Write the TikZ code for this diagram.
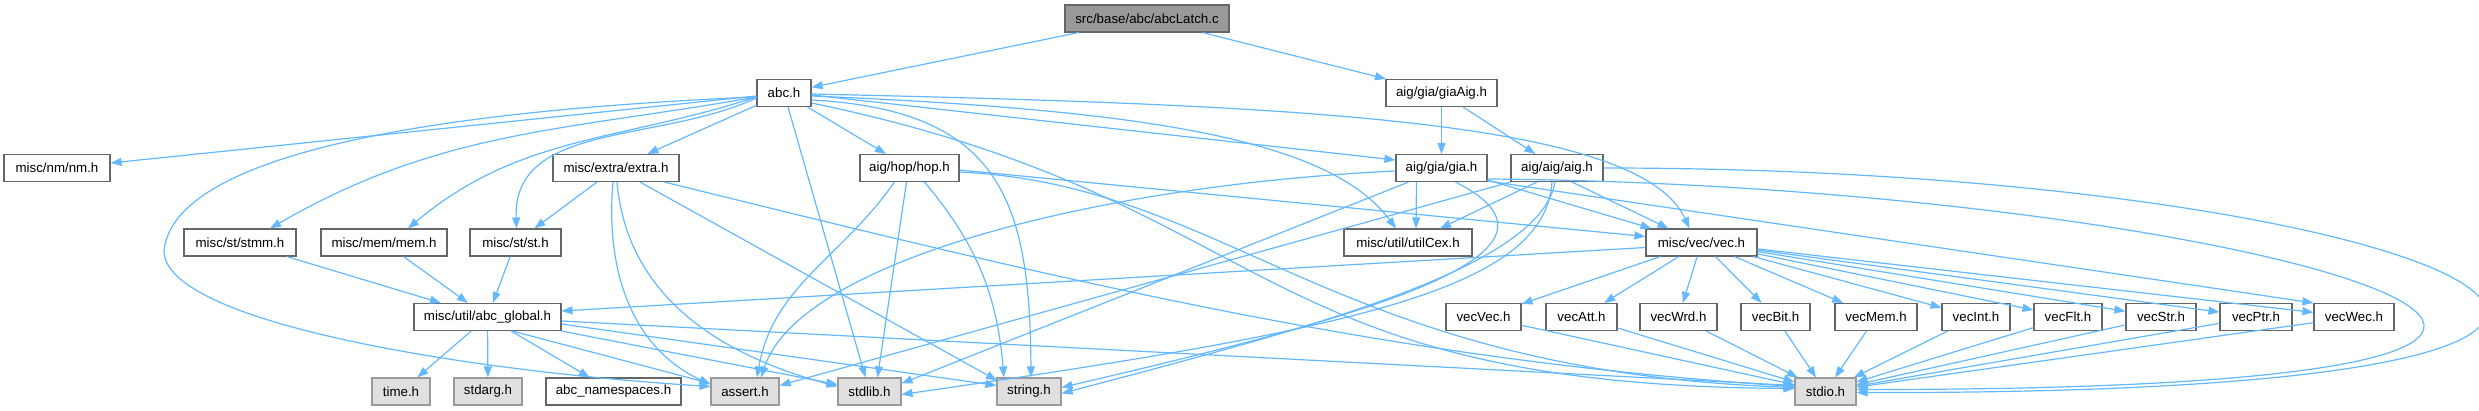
\documentclass[tikz,border=0pt]{standalone}
\usepackage{fontspec}
\setmainfont{Liberation Sans}
\usetikzlibrary{arrows.meta}
\definecolor{edgeblue}{HTML}{63B8FF}
\definecolor{boxgray}{HTML}{666666}
\definecolor{sysdraw}{HTML}{999999}
\definecolor{sysfill}{HTML}{E0E0E0}
\definecolor{mainfill}{HTML}{999999}
\tikzset{
  box/.style={draw=boxgray, line width=1.1pt, fill=white, minimum height=27pt, inner sep=0pt,
    font=\fontsize{13.3pt}{15pt}\selectfont, anchor=center},
  sys/.style={box, fill=sysfill, draw=sysdraw},
  mainbox/.style={box, fill=mainfill},
  e/.style={draw=edgeblue, line width=1.2pt, -{Triangle[length=11pt,width=8pt]}},
}
\begin{document}
\begin{tikzpicture}[x=1pt,y=1pt]
\useasboundingbox (0,0) rectangle (2479,-411);
% row 0
\node[mainbox, minimum width=164pt] (L) at (1147,-18.5) {src/base/abc/abcLatch.c};
% row 1
\node[box, minimum width=54pt] (abc) at (784,-93) {abc.h};
\node[box, minimum width=111pt] (giaAig) at (1441.5,-93) {aig/gia/giaAig.h};
% row 2
\node[box, minimum width=106pt] (nm) at (57,-168) {misc/nm/nm.h};
\node[box, minimum width=126pt] (extra) at (616,-168) {misc/extra/extra.h};
\node[box, minimum width=99pt] (hop) at (909.5,-168) {aig/hop/hop.h};
\node[box, minimum width=91pt] (gia) at (1441.5,-168) {aig/gia/gia.h};
\node[box, minimum width=92pt] (aig) at (1557,-168) {aig/aig/aig.h};
% row 3
\node[box, minimum width=112pt] (stmm) at (240,-242.5) {misc/st/stmm.h};
\node[box, minimum width=126pt] (mem) at (384,-242.5) {misc/mem/mem.h};
\node[box, minimum width=91pt] (st) at (515.5,-242.5) {misc/st/st.h};
\node[box, minimum width=128pt] (utilCex) at (1408,-242.5) {misc/util/utilCex.h};
\node[box, minimum width=111pt] (vec) at (1701.5,-242.5) {misc/vec/vec.h};
% row 4
\node[box, minimum width=147pt] (abcg) at (487.5,-317) {misc/util/abc\_global.h};
\node[box, minimum width=75pt] (vecVec) at (1483.5,-317) {vecVec.h};
\node[box, minimum width=71pt] (vecAtt) at (1581.5,-317) {vecAtt.h};
\node[box, minimum width=77pt] (vecWrd) at (1678.5,-317) {vecWrd.h};
\node[box, minimum width=69pt] (vecBit) at (1775.5,-317) {vecBit.h};
\node[box, minimum width=82pt] (vecMem) at (1876,-317) {vecMem.h};
\node[box, minimum width=68pt] (vecInt) at (1976,-317) {vecInt.h};
\node[box, minimum width=68pt] (vecFlt) at (2068,-317) {vecFlt.h};
\node[box, minimum width=70pt] (vecStr) at (2161,-317) {vecStr.h};
\node[box, minimum width=72pt] (vecPtr) at (2256,-317) {vecPtr.h};
\node[box, minimum width=80pt] (vecWec) at (2354,-317) {vecWec.h};
% row 5
\node[sys, minimum width=58pt] (time) at (401,-391.5) {time.h};
\node[sys, minimum width=68pt] (stdarg) at (488,-391.5) {stdarg.h};
\node[box, minimum width=135pt] (abcns) at (613.5,-391.5) {abc\_namespaces.h};
\node[sys, minimum width=68pt] (assert) at (745,-391.5) {assert.h};
\node[sys, minimum width=63pt] (stdlib) at (869.5,-391.5) {stdlib.h};
\node[sys, minimum width=64pt] (string) at (1029,-391.5) {string.h};
\node[sys, minimum width=61pt] (stdio) at (1825.5,-391.5) {stdio.h};

% edges from abcLatch.c
\draw[e] (L) -- (abc);
\draw[e] (L) -- (giaAig);
% edges from abc.h
\draw[e] ([yshift=-3pt]abc.west) -- ([yshift=5pt]nm.east);
\draw[e] ([yshift=-4pt]abc.west) to[out=190,in=30] ([xshift=30pt]stmm.north);
\draw[e] ([yshift=-4pt]abc.west) to[out=198,in=40] ([xshift=24pt]mem.north);
\draw[e] ([yshift=-5pt]abc.west) to[out=205,in=92] ([xshift=1pt]st.north);
\draw[e] (abc) -- (extra);
\draw[e] ([yshift=-4pt]abc.west) .. controls (400,-112) and (175,-160) .. (164,-250)
   .. controls (162,-320) and (450,-370) .. ([yshift=5pt]assert.west);
\draw[e] (abc) -- (stdlib);
\draw[e] ([yshift=-7pt]abc.east) .. controls (1000,-110) and (1030,-200) .. ([xshift=2pt]string.north);
\draw[e] (abc) -- (hop);
\draw[e] ([yshift=-10pt]abc.east) .. controls (1280,-200) and (1240,-385) .. ([yshift=3pt]stdio.west);
\draw[e] ([yshift=-3pt]abc.east) .. controls (1150,-110) and (1330,-140) .. ([xshift=-12pt]utilCex.north);
\draw[e] ([yshift=-2pt]abc.east) -- ([yshift=8pt]gia.west);
\draw[e] ([yshift=-1pt]abc.east) .. controls (1300,-105) and (1640,-120) .. ([xshift=-12pt]vec.north);
% giaAig
\draw[e] (giaAig) -- (gia);
\draw[e] (giaAig) -- (aig);
% extra.h
\draw[e] (extra) -- (st);
\draw[e] ([xshift=-3pt]extra.south) to[out=-95,in=155] ([yshift=7pt]assert.west);
\draw[e] ([xshift=1pt]extra.south) to[out=-85,in=165] ([yshift=5pt]stdlib.west);
\draw[e] ([xshift=24pt]extra.south) -- ([xshift=-32pt,yshift=-3pt]string.north);
\draw[e] ([xshift=-15pt]extra.south east) .. controls (1100,-290) and (1400,-360) .. ([yshift=5pt]stdio.west);
% hop.h
\draw[e] ([xshift=-15pt]hop.south) to[out=-125,in=80] ([xshift=12pt]assert.north);
\draw[e] ([xshift=-3pt]hop.south) -- ([xshift=8pt]stdlib.north);
\draw[e] ([xshift=15pt]hop.south) to[out=-50,in=95] ([xshift=-25pt]string.north);
\draw[e] ([yshift=-4pt]hop.east) .. controls (1230,-185) and (1330,-370) .. ([yshift=4pt]stdio.west);
\draw[e] ([yshift=-2pt]hop.east) -- ([yshift=6pt]vec.west);
% gia.h
\draw[e] ([yshift=-3pt]gia.west) .. controls (1100,-185) and (800,-260) .. ([xshift=16pt]assert.north);
\draw[e] ([xshift=-33pt]gia.south) -- ([yshift=8pt]stdlib.east);
\draw[e] ([xshift=14pt]gia.south) .. controls (1600,-255) and (1350,-320) .. ([yshift=4pt]string.east);
\draw[e] ([yshift=-11pt]gia.east) .. controls (2250,-185) and (2950,-390) .. ([yshift=2pt]stdio.east);
\draw[e] ([xshift=-25pt]gia.south) -- ([xshift=8pt]utilCex.north);
\draw[e] ([yshift=-12pt]gia.east) -- ([xshift=-50pt]vec.north);
\draw[e] ([yshift=-13pt]gia.east) -- (vecWec.north west);
% aig.h
\draw[e] (aig.south west) -- ([yshift=6pt]assert.east);
\draw[e] ([xshift=-5pt]aig.south) .. controls (1545,-290) and (1350,-330) .. ([yshift=-3pt]stdlib.east);
\draw[e] ([xshift=-2pt]aig.south) .. controls (1540,-270) and (1300,-330) .. ([yshift=-2pt]string.east);
\draw[e] ([xshift=-20pt]aig.south) -- ([xshift=32pt]utilCex.north);
\draw[e] ([xshift=15pt]aig.south) -- ([xshift=-33pt]vec.north);
\draw[e] (aig.east) .. controls (2450,-168) and (2950,-395) .. ([yshift=-1pt]stdio.east);
% st / mem / stmm
\draw[e] (stmm) -- (abcg);
\draw[e] (mem) -- (abcg);
\draw[e] (st) -- (abcg);
% vec.h
\draw[e] ([yshift=-5pt]vec.west) -- ([yshift=6pt]abcg.east);
\foreach \v in {vecVec,vecAtt,vecWrd,vecBit,vecMem,vecInt,vecFlt,vecStr,vecPtr,vecWec}
  \draw[e] (vec) -- (\v);
% abc_global.h
\draw[e] (abcg) -- (time);
\draw[e] (abcg) -- (stdarg);
\draw[e] (abcg) -- (abcns);
\draw[e] ([xshift=25pt]abcg.south) -- ([yshift=8pt]assert.west);
\draw[e] (abcg.south east) -- ([yshift=7pt]stdlib.west);
\draw[e] ([yshift=-7pt]abcg.east) -- ([yshift=6pt]string.west);
\draw[e] ([yshift=-4pt]abcg.east) -- ([yshift=6pt]stdio.west);
% vec*.h -> stdio.h
\foreach \v in {vecVec,vecAtt,vecWrd,vecBit,vecMem,vecInt,vecFlt,vecStr,vecPtr,vecWec}
  \draw[e] (\v) -- (stdio);
\end{tikzpicture}
\end{document}
